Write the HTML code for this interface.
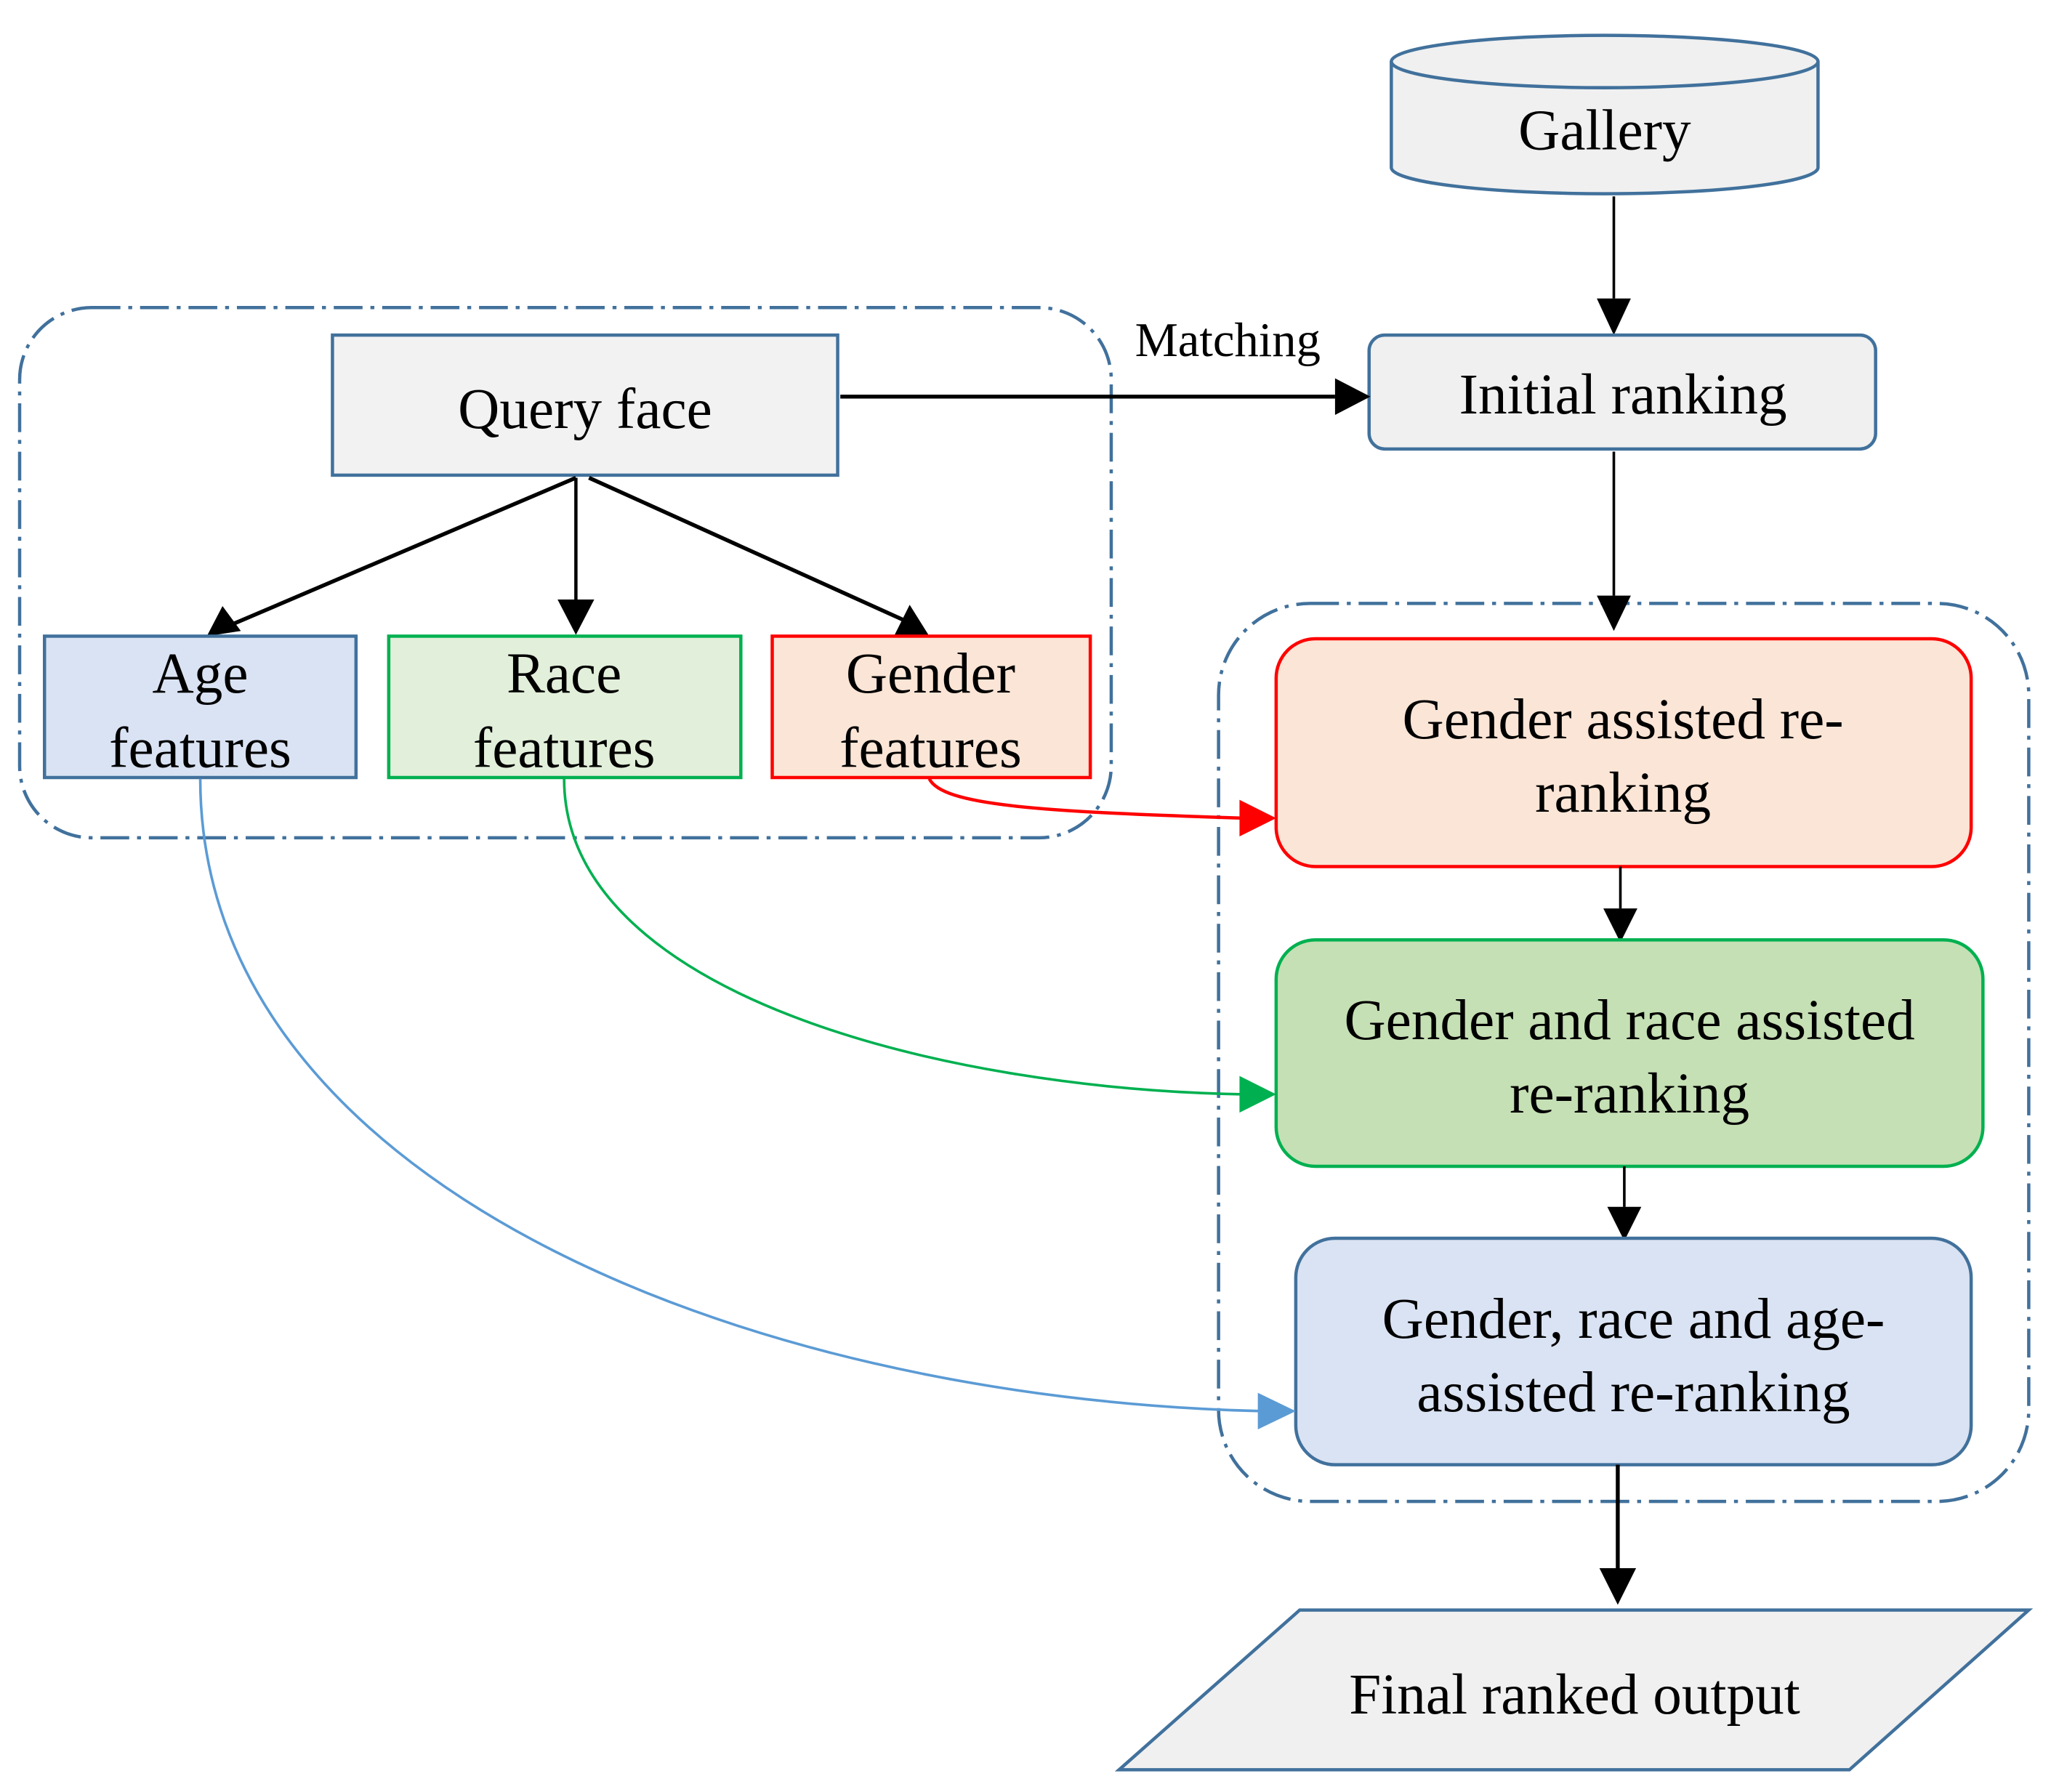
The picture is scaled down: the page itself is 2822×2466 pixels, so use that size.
<!DOCTYPE html>
<html><head><meta charset="utf-8"><style>html,body{margin:0;padding:0;background:#fff}svg{display:block}</style></head>
<body>
<svg xmlns="http://www.w3.org/2000/svg" width="2822" height="2466" viewBox="0 0 1567 1369" preserveAspectRatio="none" font-family="'Liberation Serif', serif">
<rect width="1567" height="1369" fill="#fff"/>
<!-- dashed groups -->
<rect x="15" y="235" width="834" height="405" rx="55" fill="none" stroke="#41719c" stroke-width="2.5" stroke-dasharray="22,6,3,6"/>
<rect x="931" y="461" width="619" height="686" rx="70" fill="none" stroke="#41719c" stroke-width="2.5" stroke-dasharray="22,6,3,6"/>
<!-- Gallery -->
<path d="M1063,47 L1063,128 A163,20 0 0 0 1389,128 L1389,47" fill="#f0f0f0" stroke="#41719c" stroke-width="2.5"/>
<ellipse cx="1226" cy="47" rx="163" ry="20" fill="#f0f0f0" stroke="#41719c" stroke-width="2.5"/>
<text x="1226" y="114" font-size="44" text-anchor="middle">Gallery</text>
<line x1="1233" y1="150" x2="1233" y2="228" stroke="#000" stroke-width="2"/>
<path d="M1220,228 L1246,228 L1233,256 z"/>
<rect x="1046" y="256" width="387" height="87" rx="12" fill="#f0f0f0" stroke="#41719c" stroke-width="2.5"/>
<text x="1240" y="316" font-size="44" text-anchor="middle">Initial ranking</text>
<text x="938" y="272" font-size="37" text-anchor="middle">Matching</text>
<rect x="254" y="256" width="386" height="107" fill="#f2f2f2" stroke="#41719c" stroke-width="2.5"/>
<text x="447" y="327" font-size="44" text-anchor="middle">Query face</text>
<line x1="642" y1="303" x2="1020" y2="303" stroke="#000" stroke-width="3"/>
<path d="M1020,289 L1047,303 L1020,317 z"/>
<line x1="440" y1="365" x2="175" y2="478" stroke="#000" stroke-width="3"/>
<path d="M158,486 L170,463 L184,482 z"/>
<line x1="440" y1="365" x2="440" y2="458" stroke="#000" stroke-width="2.5"/>
<path d="M426,458 L454,458 L440,485 z"/>
<line x1="450" y1="365" x2="700" y2="478" stroke="#000" stroke-width="3"/>
<path d="M710,486 L683,486 L695,462 z"/>
<rect x="34" y="486" width="238" height="108" fill="#dae3f3" stroke="#41719c" stroke-width="2.5"/>
<text x="153" y="529" font-size="44" text-anchor="middle">Age</text>
<text x="153" y="586" font-size="44" text-anchor="middle">features</text>
<rect x="297" y="486" width="269" height="108" fill="#e2efda" stroke="#00b050" stroke-width="2.5"/>
<text x="431" y="529" font-size="44" text-anchor="middle">Race</text>
<text x="431" y="586" font-size="44" text-anchor="middle">features</text>
<rect x="590" y="486" width="243" height="108" fill="#fbe5d6" stroke="#ff0000" stroke-width="2.5"/>
<text x="711" y="529" font-size="44" text-anchor="middle">Gender</text>
<text x="711" y="586" font-size="44" text-anchor="middle">features</text>
<line x1="1233" y1="345" x2="1233" y2="455" stroke="#000" stroke-width="2"/>
<path d="M1220,455 L1246,455 L1233,482 z"/>
<rect x="975" y="488" width="531" height="174" rx="30" fill="#fbe5d6" stroke="#ff0000" stroke-width="2.5"/>
<text x="1240" y="564" font-size="44" text-anchor="middle">Gender assisted re-</text>
<text x="1240" y="620" font-size="44" text-anchor="middle">ranking</text>
<line x1="1238" y1="662" x2="1238" y2="694" stroke="#000" stroke-width="2"/>
<path d="M1225,694 L1251,694 L1238,720 z"/>
<rect x="975" y="718" width="540" height="173" rx="30" fill="#c5e0b4" stroke="#00b050" stroke-width="2.5"/>
<text x="1245" y="794" font-size="44" text-anchor="middle">Gender and race assisted</text>
<text x="1245" y="850" font-size="44" text-anchor="middle">re-ranking</text>
<line x1="1241" y1="891" x2="1241" y2="922" stroke="#000" stroke-width="2"/>
<path d="M1228,922 L1254,922 L1241,948 z"/>
<rect x="990" y="946" width="516" height="173" rx="30" fill="#dae3f3" stroke="#41719c" stroke-width="2.5"/>
<text x="1248" y="1022" font-size="44" text-anchor="middle">Gender, race and age-</text>
<text x="1248" y="1078" font-size="44" text-anchor="middle">assisted re-ranking</text>
<line x1="1236" y1="1119" x2="1236" y2="1200" stroke="#000" stroke-width="3"/>
<path d="M1222,1198 L1250,1198 L1236,1226 z"/>
<polygon points="993,1230 1550,1230 1413,1352 855,1352" fill="#f0f0f0" stroke="#41719c" stroke-width="2.5"/>
<text x="1203" y="1309" font-size="44" text-anchor="middle">Final ranked output</text>
<path d="M710,595 C720,615 790,620 950,625" fill="none" stroke="#ff0000" stroke-width="2.5"/>
<path d="M947,611 L975,625 L947,639 z" fill="#ff0000"/>
<path d="M431,595 C431,760 720,832 950,836" fill="none" stroke="#00b050" stroke-width="2"/>
<path d="M947,822 L975,836 L947,850 z" fill="#00b050"/>
<path d="M153,595 C153,900 560,1068 963,1078" fill="none" stroke="#5b9bd5" stroke-width="2"/>
<path d="M961,1064 L990,1078 L961,1092 z" fill="#5b9bd5"/>
</svg>
</body></html>
